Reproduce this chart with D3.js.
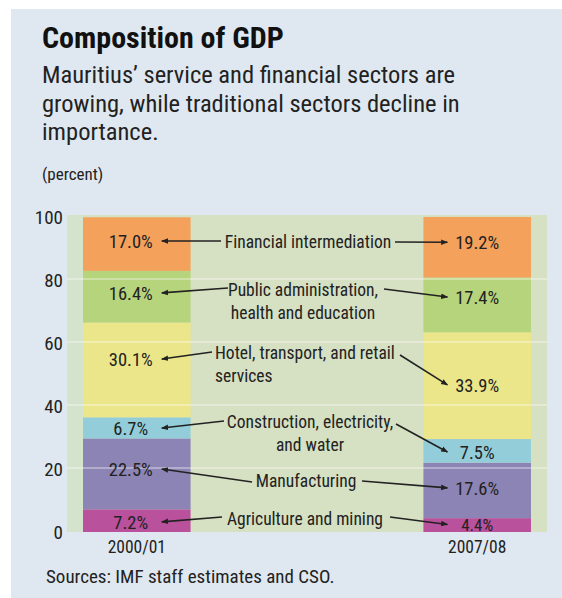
<!DOCTYPE html>
<html>
<head>
<meta charset="utf-8">
<script src="https://cdn.jsdelivr.net/npm/d3@7"></script>
<style>
  html, body { margin: 0; padding: 0; background: #ffffff; }
  svg { display: block; }
  text { font-family: "Liberation Sans Narrow", "Arial Narrow", "Roboto Condensed", "Liberation Sans", Arial, sans-serif; fill: #222; }
</style>
</head>
<body>
<svg id="chart" width="562" height="598"></svg>
<script>
// ---------------- data ----------------
const categories = ["2000/01", "2007/08"];
const sectors = [
  "Agriculture and mining",
  "Manufacturing",
  "Construction, electricity, and water",
  "Hotel, transport, and retail services",
  "Public administration, health and education",
  "Financial intermediation"
];
const values2000 = [7.2, 22.5, 6.7, 30.1, 16.4, 17.0];
const values2007 = [4.4, 17.6, 7.5, 33.9, 17.4, 19.2];
const yTicks = [0, 20, 40, 60, 80, 100];
const sectorColors = ["#b9519d", "#8c84b4", "#93cdd9", "#ebe68a", "#b6d47c", "#f4a15b"];

// where each value label sits (in percent units on the y axis)
const labelAt2000 = [3.2, 20, 33, 54.9, 75.9, 92.4];
const labelAt2007 = [2.4, 14, 25.4, 46.7, 74.6, 92];

// middle annotation layout
const notes = [
  { lines: ["Agriculture and mining"], anchor: "middle", x: 305, y: 519, l: [222, 517], r: [390, 517] },
  { lines: ["Manufacturing"], anchor: "middle", x: 306, y: 481, l: [252, 482], r: [362, 481] },
  { lines: ["Construction, electricity,", "and water"], anchor: "middle", x: 310, y: 422, l: [224, 421], r: [396, 424] },
  { lines: ["Hotel, transport, and retail", "services"], anchor: "start", x: 215, y: 353, l: [212, 352], r: [400, 355] },
  { lines: ["Public administration,", "health and education"], anchor: "middle", x: 303, y: 290, l: [228, 288], r: [384, 289] },
  { lines: ["Financial intermediation"], anchor: "middle", x: 308, y: 242, l: [221, 241], r: [395, 242] }
];

// ---------------- drawing ----------------
const svg = d3.select("#chart");

svg.append("rect").attr("x", 11).attr("y", 9).attr("width", 551).attr("height", 589).attr("fill", "#dfe8f0");

svg.append("text").attr("x", 42).attr("y", 48)
  .style("font-size", "30px").style("font-weight", "bold").style("fill", "#111")
  .text("Composition of GDP");

const sub = ["Mauritius\u2019 service and financial sectors are",
             "growing, while traditional sectors decline in",
             "importance."];
svg.append("g").selectAll("text").data(sub).join("text")
  .attr("x", 42).attr("y", (d, i) => 83 + i * 28.5)
  .style("font-size", "24.5px").style("fill", "#222")
  .text(d => d);

svg.append("text").attr("x", 42).attr("y", 180)
  .style("font-size", "17px").text("(percent)");

const plot = { left: 67, right: 547, top: 217, bottom: 532 };

const x = d3.scaleBand().domain(categories)
  .range([plot.left, plot.right]).paddingInner(0.684).paddingOuter(0.047);
const y = d3.scaleLinear().domain([0, 100]).range([plot.bottom, plot.top]);

// plot background
svg.append("rect").attr("x", plot.left).attr("y", y(100) - 2)
  .attr("width", plot.right - plot.left).attr("height", plot.bottom - y(100) + 2)
  .attr("fill", "#d6e0c2");
svg.append("rect").attr("x", plot.left).attr("y", y(100) - 2)
  .attr("width", x(categories[0]) - plot.left).attr("height", plot.bottom - y(100) + 2)
  .attr("fill", "#d3e3cc");

// stacked data
const table = categories.map((c, ci) => {
  const row = { cat: c };
  const vals = ci === 0 ? values2000 : values2007;
  sectors.forEach((s, si) => row[s] = vals[si]);
  return row;
});
const series = d3.stack().keys(sectors)(table);

svg.append("g").selectAll("g").data(series).join("g")
  .attr("fill", (d, i) => sectorColors[i])
  .selectAll("rect").data(d => d).join("rect")
  .attr("x", d => x(d.data.cat))
  .attr("width", x.bandwidth())
  .attr("y", d => y(d[1]))
  .attr("height", d => y(d[0]) - y(d[1]));

// gridlines
svg.append("g").selectAll("line").data(yTicks.filter(t => t > 0 && t < 100)).join("line")
  .attr("x1", plot.left).attr("x2", plot.right)
  .attr("y1", d => y(d) - 1).attr("y2", d => y(d) - 1)
  .attr("stroke", "#ffffff").attr("stroke-opacity", 0.45).attr("stroke-width", 1.5);

// y axis labels
const yAxis = d3.axisLeft(y).tickValues(yTicks).tickSize(0).tickPadding(0);
const ya = svg.append("g").attr("transform", `translate(${plot.left - 4},0)`).call(yAxis);
ya.select(".domain").remove();
ya.selectAll("text").style("font-size", "19px").style("font-family", null).attr("fill", "#222")
  .attr("x", 0);

// x axis labels
const xAxis = d3.axisBottom(x).tickSize(0).tickPadding(0);
const xa = svg.append("g").attr("transform", `translate(0,${plot.bottom + 9})`).call(xAxis);
xa.select(".domain").remove();
xa.selectAll("text").style("font-size", "17.5px").style("font-family", null).attr("fill", "#333");

// value labels
const valueLabels = [];
categories.forEach((c, ci) => {
  const vals = ci === 0 ? values2000 : values2007;
  const at = ci === 0 ? labelAt2000 : labelAt2007;
  vals.forEach((v, si) => valueLabels.push({ ci, si, v, at: at[si],
    cx: x(c) + x.bandwidth() / 2 + (ci === 0 ? -6 : 0) }));
});
svg.append("g").selectAll("text").data(valueLabels).join("text")
  .attr("x", d => d.cx).attr("y", d => y(d.at))
  .attr("dy", "0.36em").attr("text-anchor", "middle")
  .style("font-size", d => (d.ci === 1 && d.si === 0) ? "17px" : "18.5px").attr("fill", "#2a2a2a")
  .text(d => d.v.toFixed(1) + "%");

// arrow marker
svg.append("defs").append("marker")
  .attr("id", "ah").attr("viewBox", "0 0 10 10").attr("refX", 9).attr("refY", 5)
  .attr("markerWidth", 7).attr("markerHeight", 7).attr("markerUnits", "userSpaceOnUse")
  .attr("orient", "auto")
  .append("path").attr("d", "M0,1 L10,5 L0,9 Z").attr("fill", "#222");

// middle annotations
const ng = svg.append("g");
notes.forEach((n, si) => {
  n.lines.forEach((ln, li) => {
    ng.append("text").attr("x", n.x).attr("y", n.y + li * 22.5)
      .attr("dy", "0.36em").attr("text-anchor", n.anchor)
      .style("font-size", "17.5px").attr("fill", "#262626").text(ln);
  });
  const leftTipX = x(categories[0]) + x.bandwidth() / 2 + 25;
  const rightTipX = x(categories[1]) + 24;
  ng.append("line").attr("x1", n.l[0]).attr("y1", n.l[1])
    .attr("x2", leftTipX).attr("y2", y(labelAt2000[si]))
    .attr("stroke", "#222").attr("stroke-width", 1.6).attr("marker-end", "url(#ah)");
  ng.append("line").attr("x1", n.r[0]).attr("y1", n.r[1])
    .attr("x2", rightTipX).attr("y2", y(labelAt2007[si]))
    .attr("stroke", "#222").attr("stroke-width", 1.6).attr("marker-end", "url(#ah)");
});

svg.append("text").attr("x", 46).attr("y", 583)
  .style("font-size", "19px").attr("fill", "#222")
  .text("Sources: IMF staff estimates and CSO.");
</script>
</body>
</html>
